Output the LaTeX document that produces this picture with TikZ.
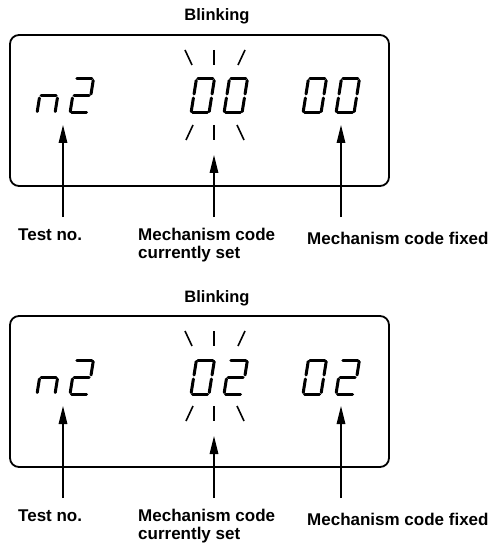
\documentclass[tikz,border=0pt]{standalone}
\usepackage{fontspec}
\setmainfont{Liberation Sans}
\usetikzlibrary{arrows.meta}
\tikzset{
  seg/.style={line width=3pt, line cap=round},
  ray/.style={line width=1.6pt},
  frame/.style={line width=1.8pt, rounded corners=9pt},
  arr/.style={line width=1.4pt, -{Triangle[length=18pt,width=8.5pt]}},
  lbl/.style={font=\bfseries\fontsize{17}{18}\selectfont, inner sep=0pt},
  ttl/.style={font=\bfseries\fontsize{16.5}{18}\selectfont, inner sep=0pt}
}
\def\digzero{1.5/34/16.5/34, 18/32.5/18/19, 18/15/18/1.5, 1.5/0/16.5/0, 0/1.5/0/15, 0/19/0/32.5}
\def\digtwo{1.5/34/16.5/34, 18/32.5/18/19, 1.5/17/16.5/17, 0/15/0/1.5, 1.5/0/16.5/0}
\def\dign{0/1.5/0/15, 1.5/17/16.5/17, 18/15/18/1.5}
\newcommand\sevseg[3]{%
  \begin{scope}[shift={(#1,#2)}, y=1pt, xslant=0.16]
    \foreach \ax/\ay/\bx/\by in #3 {\draw[seg] (\ax,\ay) -- (\bx,\by);}
  \end{scope}}
\newcommand\mypanel[4]{%
  \begin{scope}[shift={(0,#1)}, name prefix=#2-]
    \node[ttl, anchor=base] (blink) at (217,21) {Blinking};
    \draw[frame] (10,35) rectangle (389,186);
    % digits
    \sevseg{37}{113}{\dign}
    \sevseg{70}{113}{\digtwo}
    \sevseg{191}{113}{#3}
    \sevseg{224}{113}{#4}
    \sevseg{303}{113}{#3}
    \sevseg{336}{113}{#4}
    % blinking rays
    \draw[ray] (185,50) -- (192,65);
    \draw[ray] (214,50) -- (214,65);
    \draw[ray] (245,50) -- (238,65);
    \draw[ray] (193,125) -- (186,140);
    \draw[ray] (214,125) -- (214,140);
    \draw[ray] (237,125) -- (244,140);
    % labels
    \node[lbl, anchor=base west] (test) at (18,240) {Test no.};
    \node[lbl, anchor=north west, align=left] (cur) at (138,227.8) {Mechanism code\\currently set};
    \node[lbl, anchor=base west] (fix) at (307,244) {Mechanism code fixed};
    % arrows
    \coordinate (ta) at (63,125);  \coordinate (tb) at (63,217);
    \coordinate (ca) at (214,155); \coordinate (cb) at (214,217);
    \coordinate (fa) at (341,125); \coordinate (fb) at (341,217);
    \draw[arr] (tb) -- (ta);
    \draw[arr] (cb) -- (ca);
    \draw[arr] (fb) -- (fa);
  \end{scope}}
\begin{document}
\begin{tikzpicture}[x=1pt, y=-1pt]
  \useasboundingbox (0,0) rectangle (492,545);
  \mypanel{0}{p1}{\digzero}{\digzero}
  \mypanel{281}{p2}{\digzero}{\digtwo}
\end{tikzpicture}
\end{document}
